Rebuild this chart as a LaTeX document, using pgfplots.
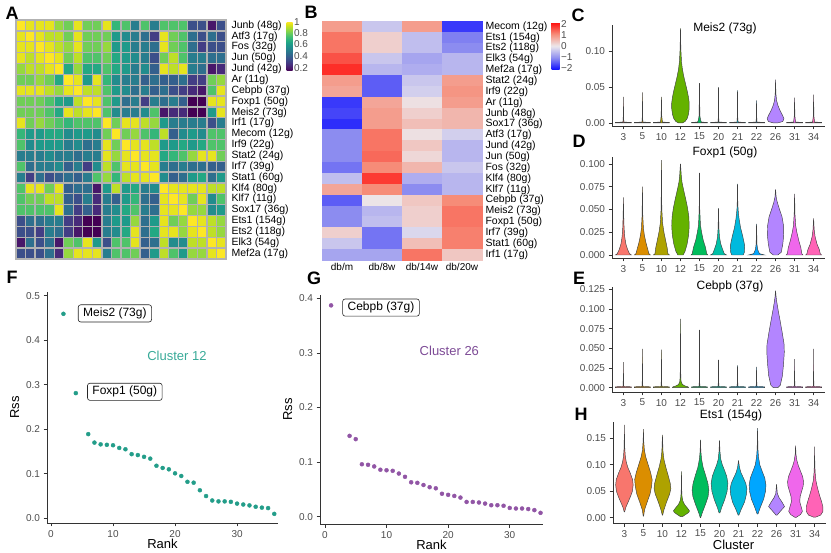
\documentclass[border=0pt]{standalone}
\usepackage{pgfplots}
\usepackage{pgfplotstable}
\pgfplotsset{compat=1.18}
\usepackage{fontspec}
\setmainfont{Liberation Sans}

\definecolor{g30}{RGB}{77,77,77}
\definecolor{v3}{HTML}{F8766D}
\definecolor{v5}{HTML}{DB8E00}
\definecolor{v10}{HTML}{AEA200}
\definecolor{v12}{HTML}{64B200}
\definecolor{v15}{HTML}{00BD5C}
\definecolor{v20}{HTML}{00C1A7}
\definecolor{v21}{HTML}{00BADE}
\definecolor{v22}{HTML}{00A6FF}
\definecolor{v26}{HTML}{B385FF}
\definecolor{v31}{HTML}{EF67EB}
\definecolor{v34}{HTML}{FF63B6}
\definecolor{tealpt}{RGB}{35,157,137}
\definecolor{tealtx}{RGB}{56,170,152}
\definecolor{purpt}{RGB}{145,85,165}
\definecolor{purtx}{RGB}{125,75,150}

\pgfplotsset{
  gg/.style={scale only axis, axis lines*=left,
    axis line style={line width=0.7pt, black!80},
    tick align=outside, major tick length=3.5pt,
    tick style={black!80, line width=0.7pt},
    tick label style={font=\fontsize{10}{12}\selectfont, text=g30},
    label style={font=\fontsize{13}{15}\selectfont},
    clip=false},
  vaxis/.style={gg, width=213pt, xmin=0.4, xmax=11.6, xtick={1,...,11},
    xticklabels={3,5,10,12,15,20,21,22,26,31,34}},
  vio/.style={draw=black!75, line width=0.45pt},
}
\tikzset{
  lbox/.style={draw=black!85, rounded corners=2.5pt, line width=0.6pt, fill=white,
    inner xsep=5pt, inner ysep=3pt, font=\fontsize{12}{14}\selectfont},
}

\newcommand\vio[3]{%
  \gdef\vR{}\gdef\vL{}%
  \foreach \yy/\ww in {#3}{%
    \pgfmathsetmacro\xr{#1+\ww}%
    \pgfmathsetmacro\xl{#1-\ww}%
    \xdef\vR{\vR(\xr,\yy)}%
    \xdef\vL{(\xl,\yy)\vL}%
  }%
  \edef\vtmp{\noexpand\addplot[vio,fill=#2] coordinates {\vR\vL} -- cycle;}%
  \vtmp
}

% Panel A: regulon correlation matrix (rows/cols in label order)
\pgfplotstableread[header=false]{
1 0.95 0.95 0.95 0.85 0.8 0.95 0.8 0.8 0.95 0.7 0.75 0.5 0.75 0.5 0.75 0.75 0.75 0.35 0.35 0.2 0.35
0.95 1 0.95 0.9 0.9 0.8 0.95 0.8 0.8 0.8 0.6 0.55 0.5 0.45 0.3 0.95 0.8 0.75 0.45 0.35 0.45 0.35
0.95 0.95 1 0.95 0.9 0.85 0.95 0.8 0.8 0.85 0.6 0.6 0.5 0.5 0.45 0.95 0.8 0.75 0.45 0.3 0.35 0.35
0.95 0.9 0.95 1 0.95 0.8 0.9 0.75 0.75 0.8 0.65 0.6 0.55 0.5 0.35 0.8 0.9 0.75 0.5 0.5 0.45 0.45
0.85 0.9 0.9 0.95 1 0.65 0.85 0.65 0.65 0.75 0.65 0.6 0.5 0.55 0.4 0.95 0.9 0.95 0.5 0.45 0.2 0.25
0.8 0.8 0.85 0.8 0.65 1 0.95 0.6 0.95 0.7 0.55 0.5 0.5 0.4 0.45 0.4 0.4 0.45 0.3 0.3 0.8 0.85
0.95 0.95 0.95 0.9 0.85 0.95 1 0.9 0.9 0.75 0.6 0.55 0.45 0.5 0.4 0.45 0.35 0.3 0.25 0.2 0.75 0.95
0.8 0.8 0.8 0.75 0.65 0.6 0.9 1 0.95 0.75 0.6 0.45 0.5 0.3 0.5 0.45 0.5 0.4 0.15 0.15 0.95 0.95
0.8 0.8 0.8 0.75 0.65 0.95 0.9 0.95 1 0.75 0.55 0.5 0.5 0.55 0.75 0.2 0.25 0.25 0.15 0.15 0.6 0.95
0.95 0.8 0.85 0.8 0.75 0.7 0.75 0.75 0.75 1 0.8 0.95 0.95 0.9 0.85 0.6 0.5 0.5 0.5 0.5 0.35 0.5
0.7 0.6 0.6 0.65 0.65 0.55 0.6 0.6 0.55 0.8 1 0.8 0.85 0.75 0.7 0.9 0.4 0.55 0.6 0.55 0.75 0.75
0.75 0.55 0.6 0.6 0.6 0.5 0.55 0.45 0.5 0.95 0.8 1 0.95 0.95 0.9 0.6 0.6 0.65 0.6 0.65 0.75 0.75
0.5 0.5 0.5 0.55 0.5 0.5 0.45 0.5 0.5 0.95 0.85 0.95 1 0.95 0.95 0.65 0.7 0.75 0.85 0.95 0.95 0.8
0.75 0.45 0.5 0.5 0.55 0.4 0.5 0.3 0.55 0.9 0.75 0.95 0.95 1 0.95 0.5 0.45 0.5 0.45 0.45 0.4 0.4
0.5 0.3 0.45 0.35 0.4 0.45 0.4 0.5 0.75 0.85 0.7 0.9 0.95 0.95 1 0.55 0.4 0.45 0.6 0.65 0.45 0.6
0.75 0.95 0.95 0.8 0.95 0.4 0.45 0.45 0.2 0.6 0.9 0.6 0.65 0.5 0.55 1 0.95 0.95 0.95 0.95 0.9 0.9
0.75 0.8 0.8 0.9 0.9 0.4 0.35 0.5 0.25 0.5 0.4 0.6 0.7 0.45 0.4 0.95 1 0.95 0.8 0.95 0.55 0.75
0.75 0.75 0.75 0.75 0.95 0.45 0.3 0.4 0.25 0.5 0.55 0.65 0.75 0.5 0.45 0.95 0.95 1 0.85 0.85 0.55 0.6
0.35 0.45 0.45 0.5 0.5 0.3 0.25 0.15 0.15 0.5 0.6 0.6 0.85 0.45 0.6 0.95 0.8 0.85 1 0.95 0.9 0.85
0.35 0.35 0.3 0.5 0.45 0.3 0.2 0.15 0.15 0.5 0.55 0.65 0.95 0.45 0.65 0.95 0.95 0.85 0.95 1 0.9 0.85
0.2 0.45 0.35 0.45 0.2 0.8 0.75 0.95 0.6 0.35 0.75 0.75 0.95 0.4 0.45 0.9 0.55 0.55 0.9 0.9 1 0.95
0.35 0.35 0.35 0.45 0.25 0.85 0.95 0.95 0.95 0.5 0.75 0.75 0.8 0.4 0.6 0.9 0.75 0.6 0.85 0.85 0.95 1
}\tabA

% Panel B: scaled activity (db/m db/8w db/14w db/20w)
\pgfplotstableread[header=false]{
0.9 -0.4 0.9 -1.8
1.3 0.3 -0.5 -1.2
1.3 0.3 -0.5 -1.1
1.6 -0.4 -0.8 -0.6
1.9 -0.6 -0.7 -0.6
0.9 -1.5 -0.4 0.9
0.8 -1.5 -0.3 1.0
-1.8 0.8 0.1 0.9
-1.7 0.9 0.3 0.6
-1.9 0.9 0.5 0.6
-1.1 1.3 0.1 -0.3
-1.1 1.3 0.4 -0.6
-1.1 1.4 0.2 -0.6
-1.3 1.1 0.6 -0.4
-0.5 1.8 -0.7 -0.6
0.8 1.1 -1.1 -0.6
-1.5 0.05 0.4 1.1
-1.1 -0.6 0.3 1.3
-1.1 -0.5 0.3 1.3
0.3 -1.3 -0.2 1.2
-0.4 -1.3 0.5 1.2
-0.8 -0.8 1.3 0.4
}\tabB

\begin{document}
\begin{tikzpicture}
\useasboundingbox (0pt,0pt) rectangle (831pt,-553pt);

% ---------------- Panel A ----------------
\begin{axis}[
  at={(16pt,-20pt)}, anchor=north west, scale only axis, width=210pt, height=239pt,
  xmin=0.5, xmax=22.5, ymin=0.5, ymax=22.5, y dir=reverse, clip=false,
  xtick=\empty, ytick={1,...,22},
  yticklabels={Junb (48g),Atf3 (17g),Fos (32g),Jun (50g),Jund (42g),Ar (11g),Cebpb (37g),Foxp1 (50g),Meis2 (73g),Irf1 (17g),Mecom (12g),Irf9 (22g),Stat2 (24g),Irf7 (39g),Stat1 (60g),Klf4 (80g),Klf7 (11g),Sox17 (36g),Ets1 (154g),Ets2 (118g),Elk3 (54g),Mef2a (17g)},
  yticklabel pos=right,
  yticklabel style={font=\fontsize{10.5}{12}\selectfont, text=black, xshift=2pt},
  major tick length=0pt,
  axis line style={draw=none},
  colormap/viridis, point meta min=0.15, point meta max=0.98,
  colorbar,
  colorbar style={at={(parent axis.north east)}, anchor=north west, xshift=52pt, yshift=-2pt,
    scale only axis, width=6pt, height=49pt,
    ytick={0.2,0.4,0.6,0.8,0.98}, yticklabels={0.2,0.4,0.6,0.8,1},
    yticklabel style={font=\fontsize{10}{12}\selectfont, text=g30, xshift=-2pt},
    major tick length=0pt, axis line style={draw=none}},
]
\pgfplotsinvokeforeach{0,...,21}{
\addplot[scatter, only marks, mark=square*, mark size=5.432pt, mark options={xscale=0.8787},
  point meta=explicit, scatter/use mapped color={draw=gray!60, fill=mapped color, line width=1.3pt}]
 table[x expr={#1+1}, y expr={\coordindex+1}, meta index=#1] {\tabA};
}
\end{axis}

% ---------------- Panel B ----------------
\begin{axis}[
  at={(322pt,-21pt)}, anchor=north west, scale only axis, width=160pt, height=239pt,
  xmin=0.5, xmax=4.5, ymin=0.5, ymax=22.5, y dir=reverse, clip=false,
  xtick={1,2,3,4}, xticklabels={db/m,db/8w,db/14w,db/20w},
  xticklabel style={font=\fontsize{10}{12}\selectfont, text=black},
  ytick={1,...,22},
  yticklabels={Mecom (12g),Ets1 (154g),Ets2 (118g),Elk3 (54g),Mef2a (17g),Stat2 (24g),Irf9 (22g),Ar (11g),Junb (48g),Sox17 (36g),Atf3 (17g),Jund (42g),Jun (50g),Fos (32g),Klf4 (80g),Klf7 (11g),Cebpb (37g),Meis2 (73g),Foxp1 (50g),Irf7 (39g),Stat1 (60g),Irf1 (17g)},
  yticklabel pos=right,
  yticklabel style={font=\fontsize{10.5}{12}\selectfont, text=black},
  major tick length=0pt, axis line style={draw=none},
  colormap={bwr}{rgb255=(10,10,255) rgb255=(140,140,240) rgb255=(236,232,236) rgb255=(246,140,120) rgb255=(255,10,10)},
  point meta min=-2.2, point meta max=2.2,
  colorbar,
  colorbar style={at={(parent axis.north east)}, anchor=north west, xshift=61pt, yshift=-1pt,
    scale only axis, width=8pt, height=48pt,
    ytick={-2,-1,0,1,2}, yticklabels={−2,−1,0,1,2},
    yticklabel style={font=\fontsize{10}{12}\selectfont, text=g30, xshift=-2pt},
    major tick length=0pt, axis line style={draw=none}},
]
\pgfplotsinvokeforeach{0,...,3}{
\addplot[scatter, only marks, mark=square*, mark size=5.432pt, mark options={xscale=3.682},
  point meta=explicit, scatter/use mapped color={draw=mapped color, fill=mapped color, line width=0.3pt}]
 table[x expr={#1+1}, y expr={\coordindex+1}, meta index=#1] {\tabB};
}
\end{axis}

% ---------------- Panel C ----------------
\begin{axis}[vaxis, at={(612pt,-25pt)}, anchor=north west, height=101pt,
  ymin=-0.0042, ymax=0.136, ytick={0,0.05,0.1}, yticklabels={0.00,0.05,0.10}]
\vio{1}{v3}{0/0.42,0.0008/0.42,0.0012/0.025,0.008/0.01,0.036/0.002}
\vio{2}{v5}{0/0.42,0.0008/0.42,0.0012/0.025,0.008/0.01,0.042/0.002}
\vio{3}{v10}{0/0.42,0.0008/0.42,0.0012/0.06,0.004/0.04,0.01/0.015,0.036/0.002}
\vio{4}{v12}{0/0.1,0.002/0.24,0.006/0.35,0.012/0.42,0.02/0.46,0.028/0.46,0.036/0.42,0.045/0.35,0.055/0.26,0.065/0.17,0.075/0.1,0.085/0.055,0.1/0.025,0.115/0.01,0.131/0.002}
\vio{5}{v15}{0/0.42,0.0008/0.42,0.0012/0.1,0.004/0.06,0.01/0.02,0.055/0.002}
\vio{6}{v20}{0/0.42,0.0008/0.42,0.0012/0.025,0.008/0.01,0.049/0.002}
\vio{7}{v21}{0/0.42,0.0008/0.42,0.0012/0.03,0.008/0.012,0.045/0.002}
\vio{8}{v22}{0/0.42,0.0008/0.42,0.0012/0.025,0.008/0.01,0.031/0.002}
\vio{9}{v26}{0/0.1,0.002/0.38,0.006/0.44,0.011/0.36,0.017/0.24,0.024/0.13,0.031/0.055,0.04/0.02,0.05/0.008,0.06/0.002}
\vio{10}{v31}{0/0.42,0.0008/0.42,0.0012/0.06,0.004/0.04,0.01/0.015,0.035/0.002}
\vio{11}{v34}{0/0.42,0.0008/0.42,0.0012/0.06,0.004/0.04,0.01/0.015,0.039/0.002}
\end{axis}

% ---------------- Panel D ----------------
\begin{axis}[vaxis, at={(612pt,-157pt)}, anchor=north west, height=101pt,
  ymin=-0.0033, ymax=0.1077, ytick={0,0.025,0.05,0.075,0.1},
  yticklabels={0.000,0.025,0.050,0.075,0.100}]
\vio{1}{v3}{0/0.42,0.0015/0.32,0.006/0.22,0.012/0.13,0.02/0.07,0.03/0.035,0.045/0.012,0.063/0.002}
\vio{2}{v5}{0/0.42,0.0015/0.34,0.007/0.27,0.014/0.18,0.022/0.1,0.03/0.05,0.045/0.015,0.075/0.002}
\vio{3}{v10}{0/0.42,0.0015/0.34,0.008/0.3,0.016/0.22,0.025/0.13,0.035/0.06,0.05/0.02,0.07/0.008,0.104/0.002}
\vio{4}{v12}{0/0.14,0.004/0.24,0.012/0.35,0.022/0.43,0.032/0.46,0.042/0.44,0.052/0.37,0.062/0.27,0.072/0.16,0.08/0.08,0.088/0.04,0.1/0.003}
\vio{5}{v15}{0/0.44,0.0015/0.38,0.008/0.32,0.016/0.2,0.025/0.11,0.033/0.05,0.05/0.015,0.09/0.002}
\vio{6}{v20}{0/0.42,0.0015/0.3,0.006/0.22,0.012/0.12,0.02/0.05,0.03/0.02,0.051/0.002}
\vio{7}{v21}{0/0.3,0.003/0.36,0.01/0.38,0.02/0.28,0.03/0.16,0.04/0.08,0.05/0.03,0.06/0.012,0.078/0.002}
\vio{8}{v22}{0/0.42,0.0015/0.15,0.006/0.06,0.012/0.02,0.034/0.002}
\vio{9}{v26}{0/0.12,0.003/0.3,0.012/0.38,0.022/0.43,0.032/0.42,0.042/0.34,0.05/0.21,0.058/0.09,0.064/0.03,0.072/0.002}
\vio{10}{v31}{0/0.44,0.0015/0.38,0.008/0.33,0.016/0.22,0.025/0.12,0.032/0.06,0.045/0.02,0.067/0.002}
\vio{11}{v34}{0/0.42,0.0015/0.35,0.006/0.3,0.012/0.18,0.02/0.08,0.028/0.03,0.04/0.002}
\end{axis}

% ---------------- Panel E ----------------
\begin{axis}[vaxis, at={(612pt,-287pt)}, anchor=north west, height=105pt,
  ymin=-0.0056, ymax=0.128, ytick={0,0.025,0.05,0.075,0.1,0.125},
  yticklabels={0.000,0.025,0.050,0.075,0.100,0.125}]
\vio{1}{v3}{0/0.42,0.001/0.42,0.0015/0.02,0.01/0.008,0.032/0.002}
\vio{2}{v5}{0/0.42,0.001/0.42,0.0015/0.02,0.01/0.008,0.049/0.002}
\vio{3}{v10}{0/0.42,0.001/0.42,0.0015/0.02,0.01/0.008,0.048/0.002}
\vio{4}{v12}{0/0.42,0.001/0.4,0.002/0.25,0.004/0.1,0.008/0.03,0.02/0.012,0.04/0.006,0.087/0.001}
\vio{5}{v15}{0/0.42,0.001/0.42,0.0015/0.02,0.01/0.008,0.073/0.002}
\vio{6}{v20}{0/0.42,0.001/0.42,0.0015/0.02,0.01/0.008,0.035/0.002}
\vio{7}{v21}{0/0.42,0.001/0.42,0.0015/0.02,0.01/0.008,0.028/0.002}
\vio{8}{v22}{0/0.42,0.001/0.42,0.0015/0.02,0.01/0.008,0.026/0.002}
\vio{9}{v26}{0/0.12,0.003/0.25,0.015/0.36,0.03/0.42,0.045/0.46,0.055/0.45,0.07/0.35,0.085/0.24,0.098/0.14,0.108/0.07,0.115/0.03,0.123/0.003}
\vio{10}{v31}{0/0.42,0.001/0.42,0.0015/0.02,0.01/0.008,0.036/0.002}
\vio{11}{v34}{0/0.42,0.001/0.42,0.0015/0.02,0.01/0.008,0.049/0.002}
\end{axis}

% ---------------- Panel H ----------------
\begin{axis}[vaxis, at={(613pt,-422pt)}, anchor=north west, height=101pt,
  ymin=-0.010, ymax=0.181, ytick={0,0.05,0.1,0.15}, yticklabels={0.00,0.05,0.10,0.15},
  xlabel={Cluster}, xlabel style={xshift=14pt, yshift=4pt}]
\vio{1}{v3}{0.011/0.01,0.02/0.08,0.03/0.2,0.04/0.32,0.05/0.42,0.062/0.46,0.072/0.43,0.085/0.3,0.095/0.18,0.105/0.1,0.115/0.05,0.13/0.02,0.15/0.008,0.175/0.001}
\vio{2}{v5}{0.003/0.01,0.015/0.06,0.03/0.2,0.045/0.35,0.06/0.43,0.072/0.46,0.085/0.38,0.1/0.25,0.115/0.12,0.128/0.05,0.145/0.015,0.167/0.001}
\vio{3}{v10}{0.005/0.01,0.015/0.08,0.03/0.22,0.045/0.38,0.055/0.44,0.065/0.41,0.08/0.3,0.095/0.18,0.11/0.08,0.125/0.03,0.156/0.001}
\vio{4}{v12}{0.002/0.05,0.006/0.22,0.01/0.38,0.013/0.42,0.018/0.32,0.025/0.16,0.032/0.07,0.04/0.03,0.055/0.01,0.087/0.001}
\vio{5}{v15}{0/0.01,0.01/0.1,0.025/0.26,0.04/0.4,0.052/0.44,0.065/0.39,0.08/0.27,0.095/0.14,0.11/0.06,0.125/0.02,0.147/0.001}
\vio{6}{v20}{0.009/0.02,0.02/0.12,0.035/0.28,0.05/0.4,0.065/0.44,0.078/0.38,0.09/0.26,0.1/0.15,0.11/0.07,0.125/0.025,0.146/0.001}
\vio{7}{v21}{0.005/0.02,0.015/0.13,0.03/0.32,0.045/0.42,0.055/0.44,0.065/0.38,0.075/0.26,0.085/0.13,0.095/0.05,0.108/0.001}
\vio{8}{v22}{0.007/0.02,0.02/0.15,0.035/0.32,0.05/0.42,0.062/0.44,0.075/0.38,0.09/0.22,0.1/0.12,0.115/0.05,0.13/0.02,0.169/0.001}
\vio{9}{v26}{0.005/0.03,0.013/0.22,0.021/0.42,0.03/0.28,0.038/0.13,0.046/0.04,0.063/0.001}
\vio{10}{v31}{0.0006/0.03,0.006/0.26,0.012/0.36,0.02/0.3,0.03/0.22,0.04/0.24,0.05/0.32,0.06/0.4,0.068/0.42,0.078/0.37,0.088/0.26,0.098/0.15,0.108/0.07,0.12/0.02,0.136/0.001}
\vio{11}{v34}{0.001/0.05,0.005/0.32,0.012/0.44,0.02/0.44,0.03/0.37,0.04/0.28,0.05/0.2,0.06/0.13,0.07/0.07,0.085/0.03,0.1/0.012,0.134/0.001}
\end{axis}

% ---------------- Panel F ----------------
\begin{axis}[gg, at={(47pt,-292pt)}, anchor=north west, width=231pt, height=231pt,
  xmin=-0.65, xmax=36.6, ymin=-0.0105, ymax=0.508,
  xtick={0,10,20,30}, xticklabels={0,10,20,30},
  ytick={0,0.1,0.2,0.3,0.4,0.5}, yticklabels={0.0,0.1,0.2,0.3,0.4,0.5},
  xlabel={Rank}, ylabel={Rss}, xlabel style={yshift=5pt}]
\addplot[only marks, mark=*, mark size=2pt, mark options={draw=tealpt, fill=tealpt}] table{
x y
2 0.459
4 0.281
6 0.189
7 0.170
8 0.166
9 0.165
10 0.164
11 0.158
12 0.155
13 0.144
14 0.142
15 0.138
16 0.134
17 0.118
18 0.113
19 0.110
20 0.101
21 0.095
22 0.082
23 0.080
24 0.063
25 0.050
26 0.040
27 0.038
28 0.038
29 0.037
30 0.033
31 0.031
32 0.029
33 0.026
34 0.024
35 0.023
36 0.010
};
\node[lbox] at (axis cs:10.3,0.46) {Meis2 (73g)};
\node[lbox] at (axis cs:11.9,0.284) {Foxp1 (50g)};
\node[text=tealtx, font=\fontsize{13}{15}\selectfont] at (axis cs:20.3,0.364) {Cluster 12};
\end{axis}

% ---------------- Panel G ----------------
\begin{axis}[gg, at={(320pt,-295pt)}, anchor=north west, width=223pt, height=229pt,
  xmin=-0.8, xmax=35.4, ymin=-0.0134, ymax=0.406,
  xtick={0,10,20,30}, xticklabels={0,10,20,30},
  ytick={0,0.1,0.2,0.3,0.4}, yticklabels={0.0,0.1,0.2,0.3,0.4},
  xlabel={Rank}, ylabel={Rss}, xlabel style={yshift=5pt}]
\addplot[only marks, mark=*, mark size=2pt, mark options={draw=purpt, fill=purpt}] table{
x y
1 0.387
4 0.148
5 0.142
6 0.096
7 0.095
8 0.092
9 0.086
10 0.085
11 0.084
12 0.079
13 0.073
14 0.063
15 0.062
16 0.058
17 0.054
18 0.052
19 0.042
20 0.040
21 0.038
22 0.035
23 0.027
24 0.027
25 0.026
26 0.024
27 0.021
28 0.021
29 0.020
30 0.016
31 0.015
32 0.015
33 0.014
34 0.012
35 0.007
};
\node[lbox] at (axis cs:9.1,0.383) {Cebpb (37g)};
\node[text=purtx, font=\fontsize{13}{15}\selectfont] at (axis cs:20.2,0.304) {Cluster 26};
\end{axis}

% ---------------- titles and panel letters ----------------
\begin{scope}[every node/.style={font=\fontsize{12}{14}\selectfont}]
\node at (725pt,-28pt) {Meis2 (73g)};
\node at (725pt,-152pt) {Foxp1 (50g)};
\node at (730pt,-286pt) {Cebpb (37g)};
\node at (731pt,-415pt) {Ets1 (154g)};
\end{scope}
\begin{scope}[every node/.style={font=\bfseries\fontsize{18}{18}\selectfont}]
\node at (12pt,-13pt) {A};
\node at (311pt,-12pt) {B};
\node at (578pt,-15pt) {C};
\node at (579pt,-141pt) {D};
\node at (579pt,-278pt) {E};
\node at (581pt,-414pt) {H};
\node at (12pt,-277pt) {F};
\node at (314pt,-278pt) {G};
\end{scope}
\end{tikzpicture}
\end{document}
